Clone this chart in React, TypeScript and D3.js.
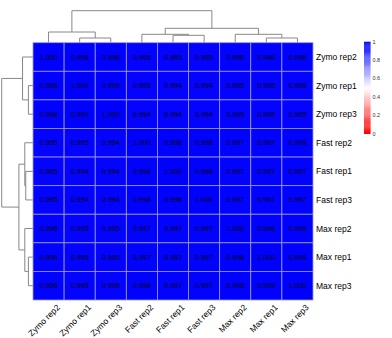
import { useMemo } from 'react';
import * as d3 from 'd3';

const WIDTH = 392;
const HEIGHT = 338;
const HEAT = { left: 33, right: 313, top: 42.7, bottom: 300 };

const samples = [
  'Zymo rep2', 'Zymo rep1', 'Zymo rep3',
  'Fast rep2', 'Fast rep1', 'Fast rep3',
  'Max rep2', 'Max rep1', 'Max rep3',
];

// correlation matrix, rows/cols in the clustered order above
const zymoRep2 = [1.000, 0.998, 0.998, 0.995, 0.995, 0.995, 0.996, 0.996, 0.996];
const zymoRep1 = [0.998, 1.000, 0.999, 0.995, 0.994, 0.994, 0.995, 0.995, 0.995];
const zymoRep3 = [0.998, 0.999, 1.000, 0.994, 0.994, 0.994, 0.995, 0.995, 0.995];
const fastRep2 = [0.995, 0.995, 0.994, 1.000, 0.998, 0.998, 0.997, 0.997, 0.998];
const fastRep1 = [0.995, 0.994, 0.994, 0.998, 1.000, 0.998, 0.997, 0.997, 0.997];
const fastRep3 = [0.995, 0.994, 0.994, 0.998, 0.998, 1.000, 0.997, 0.997, 0.997];
const maxRep2 = [0.996, 0.995, 0.995, 0.997, 0.997, 0.997, 1.000, 0.998, 0.998];
const maxRep1 = [0.996, 0.995, 0.995, 0.997, 0.997, 0.997, 0.998, 1.000, 0.999];
const maxRep3 = [0.996, 0.995, 0.995, 0.998, 0.997, 0.997, 0.998, 0.999, 1.000];
const matrix = [zymoRep2, zymoRep1, zymoRep3, fastRep2, fastRep1, fastRep3, maxRep2, maxRep1, maxRep3];

// hclust merge heights (same tree for rows and columns)
type Node = { leaf?: string; h?: number; children?: Node[] };
const clusterTree: Node = {
  h: 0.032,
  children: [
    { h: 0.0107, children: [{ leaf: 'Zymo rep2' }, { h: 0.0047, children: [{ leaf: 'Zymo rep1' }, { leaf: 'Zymo rep3' }] }] },
    {
      h: 0.0144,
      children: [
        { h: 0.0084, children: [{ leaf: 'Fast rep2' }, { h: 0.0074, children: [{ leaf: 'Fast rep1' }, { leaf: 'Fast rep3' }] }] },
        { h: 0.0084, children: [{ leaf: 'Max rep2' }, { h: 0.0047, children: [{ leaf: 'Max rep1' }, { leaf: 'Max rep3' }] }] },
      ],
    },
  ],
};

const legendTicks = [0, 0.2, 0.4, 0.6, 0.8, 1];

const FONT = '"Liberation Sans", Arial, sans-serif';

// elbow segments: positions along the leaf axis + merge heights
function dendroSegments(node: Node, pos: (s: string) => number) {
  const segs: { p1: number; h1: number; p2: number; h2: number; h: number }[] = [];
  const walk = (n: Node): { p: number; h: number } => {
    if (n.leaf) return { p: pos(n.leaf), h: 0 };
    const [a, b] = n.children!.map(walk);
    segs.push({ p1: a.p, h1: a.h, p2: b.p, h2: b.h, h: n.h! });
    return { p: (a.p + b.p) / 2, h: n.h! };
  };
  walk(node);
  return segs;
}

export default function App() {
  const x = d3.scaleBand().domain(samples).range([HEAT.left, HEAT.right]);
  const y = d3.scaleBand().domain(samples).range([HEAT.top, HEAT.bottom]);
  const color = d3.scaleLinear<string>().domain([0, 0.5, 1]).range(['#FF0000', '#FFFFFF', '#0000FF']);

  const topH = d3.scaleLinear().domain([0, clusterTree.h!]).range([HEAT.top, 10.7]);
  const leftH = d3.scaleLinear().domain([0, clusterTree.h!]).range([HEAT.left, 1.7]);

  const colSegs = useMemo(() => dendroSegments(clusterTree, (s) => x(s)! + x.bandwidth() / 2), []);
  const rowSegs = useMemo(() => dendroSegments(clusterTree, (s) => y(s)! + y.bandwidth() / 2), []);

  const legY = d3.scaleLinear().domain([0, 1]).range([133.7, 41.7]);
  const legendSteps = d3.range(0, 1, 0.01);

  return (
    <svg width={WIDTH} height={HEIGHT} style={{ position: 'absolute', left: 0, top: 0, background: '#fff' }} fontFamily={FONT}>
      {/* column dendrogram */}
      <g fill="none" stroke="#888" strokeWidth={1}>
        {colSegs.map((s, i) => (
          <path key={i} d={`M${s.p1},${topH(s.h1)}V${topH(s.h)}H${s.p2}V${topH(s.h2)}`} />
        ))}
      </g>
      {/* row dendrogram */}
      <g fill="none" stroke="#888" strokeWidth={1}>
        {rowSegs.map((s, i) => (
          <path key={i} d={`M${leftH(s.h1)},${s.p1}H${leftH(s.h)}V${s.p2}H${leftH(s.h2)}`} />
        ))}
      </g>

      {/* cells */}
      <g>
        {matrix.map((row, i) =>
          row.map((v, j) => (
            <rect
              key={`${i}-${j}`}
              x={x(samples[j])}
              y={y(samples[i])}
              width={x.bandwidth()}
              height={y.bandwidth()}
              fill={color(v)}
              stroke="#9a9ad8"
              strokeWidth={0.8}
            />
          )),
        )}
      </g>
      <g fontSize={7.2} fill="#000" textAnchor="middle">
        {matrix.map((row, i) =>
          row.map((v, j) => (
            <text
              key={`t${i}-${j}`}
              x={x(samples[j])! + x.bandwidth() / 2}
              y={y(samples[i])! + y.bandwidth() / 2}
              dy="0.35em"
            >
              {d3.format('.3f')(v)}
            </text>
          )),
        )}
      </g>

      {/* row labels */}
      <g fontSize={8.5} fill="#000">
        {samples.map((s) => (
          <text key={s} x={HEAT.right + 3} y={y(s)! + y.bandwidth() / 2} dy="0.35em">
            {s}
          </text>
        ))}
      </g>

      {/* column labels */}
      <g fontSize={8.5} fill="#000" textAnchor="end">
        {samples.map((s) => (
          <text
            key={s}
            transform={`translate(${x(s)! + x.bandwidth() / 2 + 12},${HEAT.bottom + 8}) rotate(-45)`}
          >
            {s}
          </text>
        ))}
      </g>

      {/* legend */}
      <g>
        {legendSteps.map((v) => (
          <rect
            key={v}
            x={364}
            y={legY(v + 0.01)}
            width={6.5}
            height={legY(v) - legY(v + 0.01) + 0.3}
            fill={color(v + 0.005)}
          />
        ))}
        <g fontSize={5.5} fill="#333">
          {legendTicks.map((t) => (
            <text key={t} x={372.5} y={legY(t)} dy="0.35em">
              {d3.format('')(t)}
            </text>
          ))}
        </g>
      </g>
    </svg>
  );
}
